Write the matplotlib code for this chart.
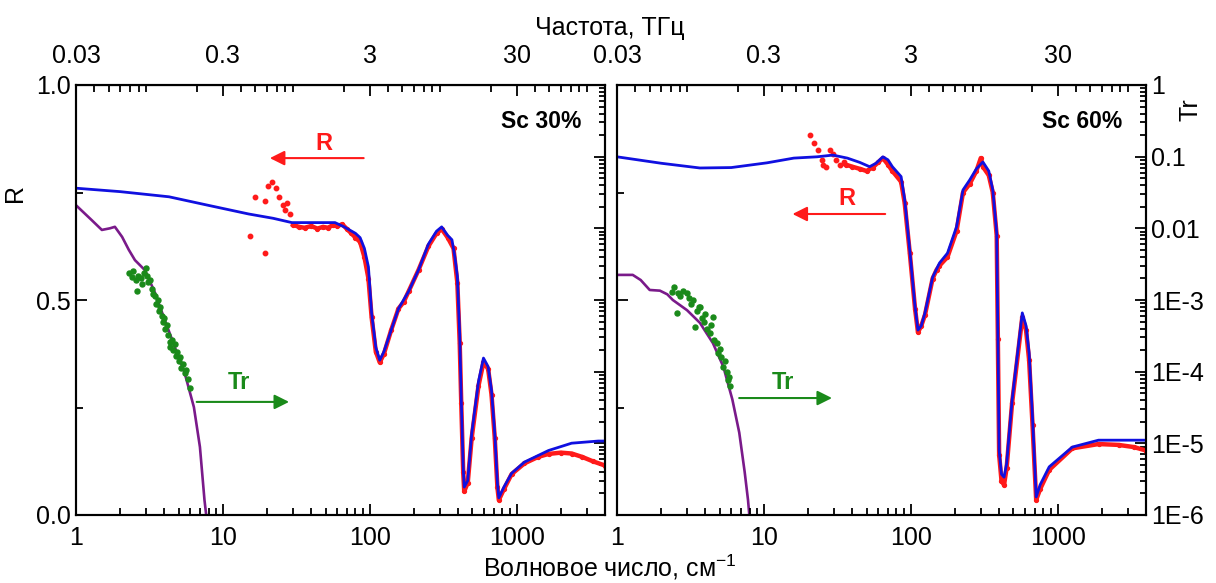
import matplotlib.pyplot as plt
from matplotlib.ticker import FixedLocator, NullFormatter, LogLocator

plt.rcParams['font.family'] = ['Liberation Sans', 'DejaVu Sans']
plt.rcParams['mathtext.default'] = 'regular'

# ---- Sc 30% ----
fit30_x = [1, 2, 4.3, 8, 15, 22, 29.5, 40, 58, 67, 80, 86, 92, 98, 103, 110, 117, 125, 140, 157,
           184, 215, 251, 285, 309, 340, 363, 380, 395, 410, 420, 433, 440, 465, 495, 550, 595,
           640, 675, 710, 740, 757, 820, 925, 1130, 1650, 2370, 3600, 4000]
fit30_r = [0.76, 0.752, 0.74, 0.72, 0.70, 0.69, 0.68, 0.68, 0.68, 0.67, 0.655, 0.645, 0.62, 0.577,
           0.47, 0.39, 0.36, 0.38, 0.43, 0.48, 0.52, 0.57, 0.63, 0.66, 0.67, 0.65, 0.64, 0.60, 0.555,
           0.42, 0.27, 0.112, 0.065, 0.08, 0.19, 0.31, 0.365, 0.345, 0.29, 0.19, 0.075, 0.04, 0.065,
           0.097, 0.123, 0.15, 0.167, 0.172, 0.172]

exp30_scat_x = [15.2, 16.6, 19.4, 19.4, 20.4, 21.7, 23, 24, 25.5, 26.5, 27.5, 28.5]
exp30_scat_r = [0.65, 0.74, 0.61, 0.73, 0.765, 0.775, 0.76, 0.74, 0.72, 0.71, 0.725, 0.70]
exp30_x = [30, 33, 36, 40, 44, 48, 52, 56, 60, 65, 70, 75, 80, 86, 92, 98, 103, 110, 117, 125,
           140, 157, 170, 184, 215, 251, 285, 309, 340, 372, 395, 410, 420, 433, 440, 465, 495,
           550, 595, 640, 675, 710, 740, 757, 820, 925, 1130, 1400, 1650, 2000, 2370, 2800,
           3300, 4000]
exp30_r = [0.675, 0.67, 0.668, 0.672, 0.666, 0.67, 0.668, 0.674, 0.672, 0.676, 0.665, 0.655,
           0.645, 0.635, 0.60, 0.55, 0.46, 0.38, 0.355, 0.375, 0.43, 0.48, 0.495, 0.52, 0.57,
           0.625, 0.655, 0.665, 0.645, 0.62, 0.54, 0.40, 0.26, 0.10, 0.055, 0.075, 0.18, 0.30,
           0.355, 0.34, 0.28, 0.18, 0.065, 0.035, 0.06, 0.095, 0.12, 0.135, 0.142, 0.145, 0.143,
           0.135, 0.125, 0.115]

trfit30_x = [1.0, 1.28, 1.5, 1.7, 1.84, 2.06, 2.29, 2.52, 2.95, 3.45, 4.03, 4.71, 5.5, 6.35,
             6.98, 7.5, 7.8]
trfit30_t = [2.1e-2, 1.3e-2, 9.5e-3, 1.0e-2, 1.05e-2, 7.6e-3, 5.0e-3, 3.6e-3, 2.6e-3, 1.26e-3,
             5.2e-4, 2.2e-4, 9.5e-5, 3.2e-5, 8.9e-6, 1.6e-6, 8e-7]

trexp30_x = [2.3, 2.4, 2.45, 2.55, 2.6, 2.65, 2.75, 2.8, 2.9, 3.0, 3.05, 3.1, 3.2, 3.3, 3.35,
             3.45, 3.5, 3.6, 3.7, 3.75, 3.85, 3.9, 4.0, 4.05, 4.15, 4.25, 4.35, 4.4, 4.5, 4.6,
             4.7, 4.8, 4.9, 5.0, 5.1, 5.2, 5.35, 5.5, 5.6, 5.8, 5.95]
trexp30_t = [2.4e-3, 2.09e-3, 2.51e-3, 1.91e-3, 1.32e-3, 2.19e-3, 2.0e-3, 1.66e-3, 2.4e-3,
             2.82e-3, 2.19e-3, 1.78e-3, 1.91e-3, 1.41e-3, 1.2e-3, 1.12e-3, 8.9e-4, 1.0e-3,
             7.1e-4, 7.9e-4, 6.0e-4, 5.0e-4, 5.6e-4, 4.0e-4, 4.5e-4, 3.2e-4, 2.6e-4, 2.2e-4,
             2.8e-4, 2.0e-4, 2.4e-4, 1.66e-4, 1.9e-4, 1.41e-4, 1.58e-4, 1.12e-4, 1.26e-4,
             9.5e-5, 1.05e-4, 7.9e-5, 6.0e-5]

# ---- Sc 60% ----
fit60_x = [1, 2, 3.67, 6, 10.5, 16, 23, 29.5, 37, 45, 52.5, 58, 64.6, 70, 75, 86, 91, 98.5, 107,
           112, 118, 125, 141, 157, 178, 205, 227, 252, 280, 310, 340, 362, 385, 392, 400, 415,
           432, 450, 490, 575, 610, 640, 675, 715, 760, 877, 1260, 1900, 3900, 4000]
fit60_r = [0.833, 0.818, 0.807, 0.808, 0.819, 0.83, 0.833, 0.837, 0.83, 0.82, 0.81, 0.818,
           0.833, 0.826, 0.81, 0.787, 0.733, 0.616, 0.484, 0.43, 0.44, 0.47, 0.553, 0.586,
           0.609, 0.67, 0.756, 0.779, 0.805, 0.821, 0.8, 0.756, 0.656, 0.42, 0.15, 0.095, 0.088,
           0.12, 0.267, 0.47, 0.44, 0.377, 0.228, 0.042, 0.07, 0.112, 0.158, 0.174, 0.174, 0.174]

exp60_scat_x = [20.6, 22, 23.3, 24.8, 25.4, 26.6, 28, 29.5, 31, 33, 35]
exp60_scat_r = [0.884, 0.865, 0.849, 0.826, 0.814, 0.81, 0.849, 0.84, 0.826, 0.815, 0.82]
exp60_x = [36, 40, 45, 50, 55, 60, 64.6, 70, 75, 86, 91, 98.5, 107, 112, 118, 125, 141, 150,
           157, 178, 205, 227, 252, 280, 300, 310, 340, 362, 385, 392, 400, 415, 432, 450, 490,
           575, 610, 640, 675, 715, 760, 877, 1260, 1900, 2600, 3300, 4000]
exp60_r = [0.815, 0.81, 0.805, 0.8, 0.808, 0.82, 0.83, 0.815, 0.8, 0.775, 0.725, 0.61, 0.48,
           0.425, 0.44, 0.465, 0.55, 0.57, 0.58, 0.6, 0.66, 0.75, 0.77, 0.8, 0.83, 0.81, 0.79,
           0.75, 0.65, 0.41, 0.14, 0.08, 0.07, 0.11, 0.26, 0.46, 0.43, 0.36, 0.21, 0.035, 0.06,
           0.105, 0.155, 0.165, 0.163, 0.158, 0.15]

trfit60_x = [1.0, 1.28, 1.45, 1.67, 1.96, 2.2, 2.4, 3.0, 3.67, 4.5, 5.3, 6.1, 6.8, 7.4, 7.8, 8.0]
trfit60_t = [2.24e-3, 2.24e-3, 1.9e-3, 1.38e-3, 1.35e-3, 1.2e-3, 1.0e-3, 7.2e-4, 4.8e-4,
             2.5e-4, 1.17e-4, 4.1e-5, 1.41e-5, 4.0e-6, 1.62e-6, 8.9e-7]

trexp60_x = [2.37, 2.45, 2.55, 2.6, 2.7, 2.8, 3.0, 3.1, 3.2, 3.3, 3.4, 3.5, 3.6, 3.7, 3.8, 3.9,
             4.0, 4.1, 4.3, 4.4, 4.5, 4.6, 4.8, 4.9, 5.0, 5.1, 5.3, 5.4, 5.6, 5.7, 5.8, 5.85]
trexp60_t = [1.29e-3, 1.51e-3, 6.6e-4, 1.26e-3, 1.12e-3, 1.32e-3, 1.26e-3, 1.05e-3, 8.9e-4,
             1.0e-3, 4.2e-4, 7.1e-4, 7.9e-4, 7.9e-4, 5.6e-4, 5.0e-4, 6.3e-4, 4.0e-4, 3.5e-4,
             4.5e-4, 5.8e-4, 2.8e-4, 2.5e-4, 1.8e-4, 2.1e-4, 1.58e-4, 1.17e-4, 1.41e-4, 1.0e-4,
             7.6e-5, 8.5e-5, 6.3e-5]

thz_ticks = [0.03, 0.3, 3, 30]
tr_ticks = [1, 0.1, 0.01, 1e-3, 1e-4, 1e-5, 1e-6]
tr_labels = ['1', '0.1', '0.01', '1E-3', '1E-4', '1E-5', '1E-6']

RED = '#ff1a1a'
BLUE = '#1010e0'
PURPLE = '#7a1a8a'
GREEN = '#1a8a1a'

fig = plt.figure(figsize=(12.16, 5.83), dpi=100)
W, H = 1216, 583


def panel(left, fx, fr, ex, er, sx, sr, tfx, tft, tex, tet, name, show_left, show_right, arrows):
    ax = fig.add_axes([left / W, 1 - 515 / H, 529 / W, 430 / H])
    axt = ax.twinx()
    ax.set_zorder(axt.get_zorder() + 1)
    ax.patch.set_visible(False)

    axt.set_yscale('log')
    axt.set_ylim(1e-6, 1)
    axt.plot(tfx, tft, color=PURPLE, lw=1.9)
    axt.plot(tex, tet, 'o', color=GREEN, ms=3.6, mec=GREEN)

    ax.plot(ex, er, color=RED, lw=3.2, marker='o', ms=2.8)
    ax.plot(sx, sr, 'o', color=RED, ms=3.2, ls='none')
    ax.plot(fx, fr, color=BLUE, lw=2)

    ax.set_xscale('log')
    ax.set_xlim(1, 4000)
    ax.set_ylim(0, 1)
    ax.set_yticks([0, 0.5, 1.0])
    ax.set_yticks([0.25, 0.75], minor=True)
    ax.set_xticks([1, 10, 100, 1000])
    ax.set_xticklabels(['1', '10', '100', '1000'])
    ax.tick_params(which='both', direction='in', labelsize=18, width=1.3)
    ax.tick_params(which='major', length=8)
    ax.tick_params(which='minor', length=5)
    ax.tick_params(axis='x', pad=8)
    if show_left:
        ax.set_yticklabels(['0.0', '0.5', '1.0'])
    else:
        ax.set_yticklabels([])

    axt.yaxis.set_major_locator(FixedLocator(tr_ticks))
    axt.yaxis.set_minor_locator(LogLocator(base=10, subs=range(2, 10), numticks=20))
    axt.yaxis.set_minor_formatter(NullFormatter())
    axt.tick_params(which='both', direction='in', labelsize=18, width=1.3)
    axt.tick_params(which='major', length=8)
    axt.tick_params(which='minor', length=4)
    if show_right:
        axt.set_yticklabels(tr_labels)
    else:
        axt.set_yticklabels([])

    top = ax.secondary_xaxis('top', functions=(lambda x: x * 0.03, lambda f: f / 0.03))
    top.set_xticks(thz_ticks)
    top.set_xticklabels(['0.03', '0.3', '3', '30'])
    top.tick_params(which='both', direction='in', labelsize=18, width=1.3, pad=12)
    top.tick_params(which='major', length=8)
    top.tick_params(which='minor', length=5)

    for a in (ax, axt):
        for s in a.spines.values():
            s.set_linewidth(1.5)

    ax.text(0.956, 0.914, name, transform=ax.transAxes, ha='right', va='center',
            fontsize=16.5, fontweight='bold')

    (rt, ra, tt, ta) = arrows
    ax.text(rt[0], rt[1], 'R', color=RED, fontsize=17, fontweight='bold', ha='center', va='center')
    ax.annotate('', xy=ra[1], xytext=ra[0],
                arrowprops=dict(arrowstyle='-|>', color=RED, lw=1.5, mutation_scale=22))
    ax.text(tt[0], tt[1], 'Tr', color=GREEN, fontsize=17, fontweight='bold', ha='center', va='center')
    ax.annotate('', xy=ta[1], xytext=ta[0],
                arrowprops=dict(arrowstyle='-|>', color=GREEN, lw=1.5, mutation_scale=22))
    return ax


panel(76, fit30_x, fit30_r, exp30_x, exp30_r, exp30_scat_x, exp30_scat_r,
      trfit30_x, trfit30_t, trexp30_x, trexp30_t, 'Sc 30%', True, False,
      ((49, 0.865), ((95, 0.83), (20, 0.83)), (12.9, 0.307), ((6.35, 0.263), (29.5, 0.263))))
panel(617, fit60_x, fit60_r, exp60_x, exp60_r, exp60_scat_x, exp60_scat_r,
      trfit60_x, trfit60_t, trexp60_x, trexp60_t, 'Sc 60%', False, True,
      ((37, 0.737), ((70, 0.70), (15, 0.70)), (13.5, 0.309), ((6.5, 0.272), (30.4, 0.272))))

fig.text(610 / W, 1 - 567 / H, 'Волновое число, см$^{-1}$', ha='center', va='center', fontsize=18)
fig.text(610 / W, 1 - 28 / H, 'Частота, ТГц', ha='center', va='center', fontsize=18)
fig.text(15 / W, 1 - 193 / H, 'R', rotation=90, ha='center', va='center', fontsize=18)
fig.text(1190 / W, 1 - 110 / H, 'Tr', rotation=90, ha='center', va='center', fontsize=18)

fig.savefig('out.png', dpi=100)
